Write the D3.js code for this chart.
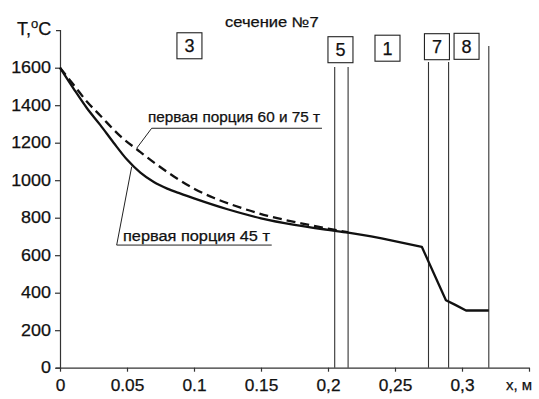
<!DOCTYPE html>
<html>
<head>
<meta charset="utf-8">
<script src="https://cdn.jsdelivr.net/npm/d3@7"></script>
<style>
  body { margin: 0; background: #fff; }
  text { font-family: "Liberation Sans", Arial, sans-serif; fill: #111; stroke: #111; stroke-width: 0.25px; }
  .axis path, .axis line { stroke: #333; stroke-width: 1.2; }
</style>
</head>
<body>
<svg id="chart" width="539" height="399"></svg>
<script>
// x, m
var xs45 = [0, 0.01, 0.02, 0.03, 0.04, 0.05, 0.06, 0.07, 0.08, 0.09, 0.1, 0.125, 0.15, 0.175, 0.2, 0.215, 0.24, 0.27, 0.288, 0.295, 0.303, 0.32];
var t45  = [1600, 1490, 1385, 1295, 1200, 1110, 1040, 990, 955, 928, 903, 845, 797, 762, 735, 720, 690, 645, 360, 335, 305, 305];

var xs60 = [0, 0.01, 0.02, 0.03, 0.045, 0.06, 0.07, 0.085, 0.1, 0.115, 0.13, 0.155, 0.18, 0.2, 0.215];
var t60  = [1600, 1510, 1420, 1345, 1235, 1150, 1095, 1020, 955, 905, 865, 810, 770, 742, 722];

// zone boundaries (x) and how far up they go (in deg C)
var boundX   = [0.205, 0.215, 0.275, 0.29, 0.32];
var boundTop = [1604, 1604, 1630, 1630, 1716];

// numbered zones
var zoneName = ["3", "5", "1", "7", "8"];
var zoneX    = [0.0966, 0.2093, 0.2444, 0.2813, 0.3034];
var zoneY    = [1717, 1696, 1704, 1712, 1714];

var xTicks = [0, 0.05, 0.1, 0.15, 0.2, 0.25, 0.3, 0.35];
var xTickLabels = ["0", "0.05", "0.1", "0.15", "0,2", "0,25", "0,3", ""];
var yTicks = [0, 200, 400, 600, 800, 1000, 1200, 1400, 1600];

var svg = d3.select("#chart");
var x = d3.scaleLinear().domain([0, 0.35]).range([60, 529]);
var y = d3.scaleLinear().domain([0, 1800]).range([367.7, 30.2]);

// the scan is a bit wider than the font, stretch text sideways
function widen(sel, k) {
    sel.each(function() {
        var w = this.getComputedTextLength();
        if (w > 0) d3.select(this).attr("textLength", w * k).attr("lengthAdjust", "spacingAndGlyphs");
    });
}

svg.append("g")
    .attr("class", "axis")
    .attr("transform", "translate(0," + y(0) + ")")
    .call(d3.axisBottom(x).tickValues(xTicks).tickSize(4).tickSizeOuter(0)
        .tickFormat(function(d, i) { return xTickLabels[i]; }))
    .call(function(g) {
        g.selectAll("text").attr("dy", "1.05em").style("font-size", "16px");
        widen(g.selectAll("text"), 1.08);
    });

svg.append("g")
    .attr("class", "axis")
    .attr("transform", "translate(" + x(0) + ",0)")
    .call(d3.axisLeft(y).tickValues(yTicks).tickSize(5).tickSizeOuter(4)
        .tickFormat(d3.format("d")))
    .call(function(g) {
        g.selectAll("text").attr("x", -9).style("font-size", "16px");
        widen(g.selectAll("text"), 1.12);
    });

// axis titles
var tl = svg.append("text").attr("x", 17).attr("y", 35).style("font-size", "18px");
tl.append("tspan").text("T,");
tl.append("tspan").attr("dy", -7).style("font-size", "13px").text("o");
tl.append("tspan").attr("dy", 7).text("C");

svg.append("text").attr("x", 506).attr("y", 390).style("font-size", "15px").text("x, м");

var title = svg.append("text")
    .attr("x", 225).attr("y", 27)
    .style("font-size", "14px")
    .text("сечение №7");
widen(title, 1.18);

// zone boundaries
svg.selectAll(".bound")
    .data(boundX)
    .enter().append("line")
    .attr("class", "bound")
    .attr("x1", function(d) { return x(d); })
    .attr("x2", function(d) { return x(d); })
    .attr("y1", function(d, i) { return y(boundTop[i]); })
    .attr("y2", y(0))
    .attr("stroke", "#333")
    .attr("stroke-width", 1.1);

// zone number boxes
var zb = svg.selectAll(".zone")
    .data(zoneName)
    .enter().append("g")
    .attr("class", "zone")
    .attr("transform", function(d, i) { return "translate(" + x(zoneX[i]) + "," + y(zoneY[i]) + ")"; });
zb.append("rect")
    .attr("x", -12.5).attr("y", -13)
    .attr("width", 25).attr("height", 26)
    .attr("fill", "#fff").attr("stroke", "#222").attr("stroke-width", 1.1);
zb.append("text")
    .attr("text-anchor", "middle").attr("dy", "0.36em")
    .style("font-size", "18px")
    .text(function(d) { return d; });

// curves
var line = d3.line()
    .curve(d3.curveMonotoneX)
    .x(function(d) { return x(d[0]); })
    .y(function(d) { return y(d[1]); });
var straight = d3.line()
    .x(function(d) { return x(d[0]); })
    .y(function(d) { return y(d[1]); });

svg.append("path")
    .datum(d3.zip(xs60, t60))
    .attr("d", line)
    .attr("fill", "none")
    .attr("stroke", "#111")
    .attr("stroke-width", 2.3)
    .attr("stroke-dasharray", "9,5");

// smooth cooling part, then the broken tail through the other layers
var pts45 = d3.zip(xs45, t45);
var knee = xs45.indexOf(0.24);
svg.append("path")
    .attr("d", line(pts45.slice(0, knee + 1)) + straight(pts45.slice(knee)).replace("M", "L"))
    .attr("fill", "none")
    .attr("stroke", "#111")
    .attr("stroke-width", 2.3)
    .attr("stroke-linejoin", "round");

// callouts
function callout(tip, corner, end, label, tx, ty, len) {
    svg.append("polyline")
        .attr("points", [[x(tip[0]), y(tip[1])], [x(corner[0]), y(corner[1])], [x(end), y(corner[1])]].join(" "))
        .attr("fill", "none").attr("stroke", "#222").attr("stroke-width", 1);
    svg.append("text")
        .attr("x", x(tx)).attr("y", y(ty))
        .attr("textLength", len).attr("lengthAdjust", "spacingAndGlyphs")
        .style("font-size", "14px")
        .text(label);
}
callout([0.0572, 1170], [0.0684, 1277], 0.1955, "первая порция 60 и 75 т", 0.0657, 1312, 172);
callout([0.0535, 1072], [0.0423, 654], 0.158, "первая порция 45 т", 0.047, 677, 147);
</script>
</body>
</html>
